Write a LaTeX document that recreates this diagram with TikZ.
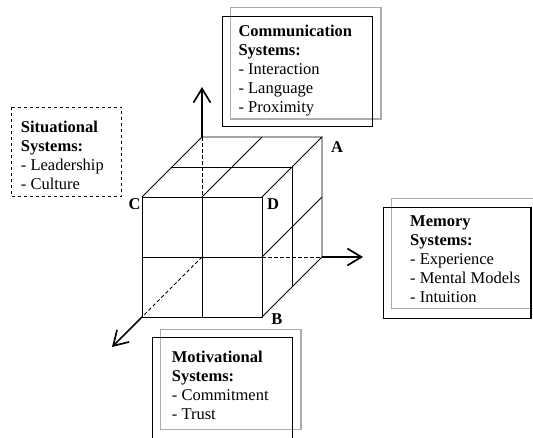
\documentclass[tikz,border=0pt]{standalone}
\usepackage{fontspec}
\setmainfont{Liberation Serif}
\usetikzlibrary{arrows.meta}

\begin{document}
\begin{tikzpicture}[
    x=1pt, y=-1pt,
    font=\fontsize{16.5}{19}\selectfont,
    every node/.style={align=left},
    edge/.style={line width=0.8pt},
    hidden/.style={edge, dash pattern=on 3.5pt off 2.5pt},
    axis/.style={line width=1.7pt, -{Straight Barb[length=14pt,width=17pt]}},
    frame/.style={line width=1.1pt},
    shadow/.style={line width=1.1pt, gray!65},
    txt/.style={inner sep=0pt, anchor=north west},
    corner/.style={font=\fontsize{16.5}{19}\selectfont\bfseries, inner sep=0pt}
]
\useasboundingbox (0,0) rectangle (533,437);
\clip (0,0) rectangle (533,437);

% =========================================================
% Cube corners
% =========================================================
\coordinate (ftl) at (142,197);
\coordinate (ftr) at (262,197);
\coordinate (fbr) at (262,317);
\coordinate (fbl) at (142,317);
\coordinate (btl) at (202,137);
\coordinate (btr) at (322,137);
\coordinate (bbr) at (322,257);
\coordinate (bbl) at (202,257);

% front face
\draw[edge] (ftl) rectangle (fbr);
\draw[edge] (202,197) -- (202,317);
\draw[edge] (142,257) -- (262,257);
% top face
\draw[edge] (ftl) -- (btl) -- (btr) -- (ftr);
\draw[edge] (202,197) -- (262,137);
\draw[edge] (172,167) -- (292,167);
% right face
\draw[edge] (btr) -- (bbr) -- (fbr);
\draw[edge] (292,167) -- (292,287);
\draw[edge] (262,257) -- (322,197);
% hidden edges
\draw[hidden] (btl) -- (202,197);
\draw[hidden] (262,257) -- (bbr);
\draw[hidden] (bbl) -- (fbl);

% axes
\coordinate (up)    at (202,87);
\coordinate (right) at (363,257);
\coordinate (front) at (112,347);
\draw[axis] (btl) -- (up);
\draw[axis] (bbr) -- (right);
\draw[axis] (fbl) -- (front);

% corner labels
\node[corner] (la) at (337,147) {A};
\node[corner] (lb) at (277,319.5) {B};
\node[corner] (lc) at (134.5,204) {C};
\node[corner] (ld) at (273,204) {D};

% =========================================================
% TOP: Communication
% =========================================================
\draw[shadow] (230.7,7.3) rectangle (381,119);
\draw[frame] (222.7,16.7) rectangle (372.7,126.7);
\node[txt] (comm) at (238.3,24.5)
   {\textbf{Communication}\\\textbf{Systems:}\\- Interaction\\- Language\\- Proximity};

% =========================================================
% LEFT: Situational
% =========================================================
\draw[frame, dashed] (11.7,107.3) rectangle (121.7,196.7);
\node[txt] (situ) at (20.7,121.2)
   {\textbf{Situational}\\\textbf{Systems:}\\- Leadership\\- Culture};

% =========================================================
% RIGHT: Memory
% =========================================================
\draw[shadow] (391.7,198.3) rectangle (545,308.3);
\draw[frame] (383.3,207.3) rectangle (531,318.3);
\node[txt] (memo) at (410,215.8)
   {\textbf{Memory}\\\textbf{Systems:}\\- Experience\\- Mental Models\\- Intuition};

% =========================================================
% BOTTOM: Motivational
% =========================================================
\draw[shadow] (160.7,329.3) rectangle (301,429.3);
\draw[frame] (152.7,450) -- (152.7,337.7) -- (292.7,337.7) -- (292.7,450);
\node[txt] (moti) at (171.7,350.8)
   {\textbf{Motivational}\\\textbf{Systems:}\\- Commitment\\- Trust};

\end{tikzpicture}
\end{document}
